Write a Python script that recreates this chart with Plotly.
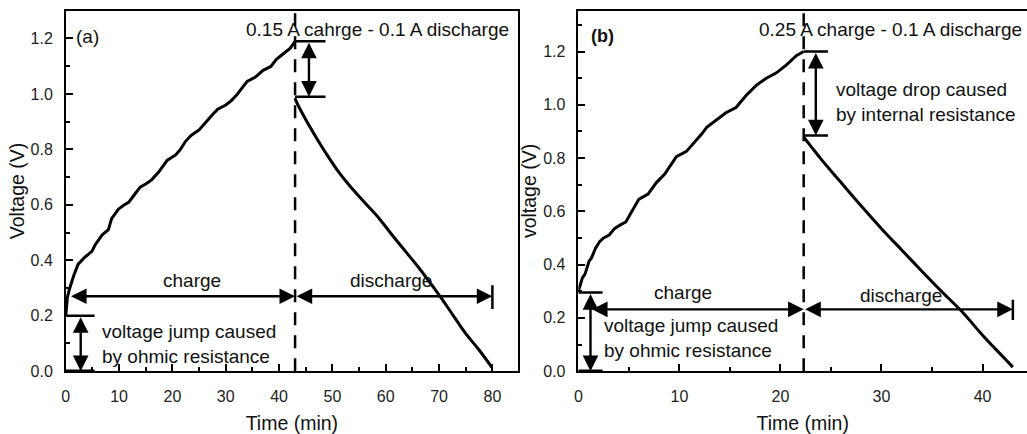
import plotly.graph_objects as go

# ---------------- data ----------------
a_charge_t = [0.0, 0.1, 0.3, 0.6, 1.0, 1.5, 2.3, 3.5, 4.9, 5.5, 6.8, 8.0, 8.6, 9.9, 11.0, 11.8,
              13.0, 14.0, 15.0, 16.1, 17.5, 19.0, 20.6, 21.5, 22.5, 23.5, 25.0, 26.3, 27.5, 28.5,
              30.0, 31.0, 32.0, 33.0, 34.0, 35.5, 37.0, 38.5, 39.5, 40.8, 42.1, 43.0]
a_charge_v = [0.20, 0.235, 0.265, 0.29, 0.315, 0.345, 0.385, 0.41, 0.432, 0.455, 0.491, 0.51, 0.55,
              0.585, 0.60, 0.609, 0.64, 0.665, 0.675, 0.69, 0.72, 0.76, 0.78, 0.80, 0.83, 0.85, 0.87,
              0.90, 0.925, 0.945, 0.96, 0.975, 0.995, 1.02, 1.045, 1.06, 1.085, 1.10, 1.125, 1.145,
              1.165, 1.19]
a_dis_t = [43.0, 43.2, 45.1, 46.9, 48.8, 51.3, 53.8, 56.3, 58.8, 61.2, 63.7, 66.2, 68.7, 70.3,
           72.4, 74.9, 77.4, 79.9]
a_dis_v = [0.985, 0.974, 0.904, 0.845, 0.786, 0.715, 0.656, 0.603, 0.55, 0.491, 0.432, 0.373,
           0.309, 0.267, 0.208, 0.138, 0.079, 0.014]

b_charge_t = [0.0, 0.07, 0.4, 0.66, 1.06, 1.3, 1.7, 2.1, 2.5, 3.05, 3.6, 4.2, 4.7, 5.3, 6.0, 6.9,
              7.7, 8.55, 9.2, 9.7, 10.7, 11.7, 12.2, 12.7, 13.7, 14.6, 15.6, 16.6, 17.6, 18.6,
              19.6, 20.6, 21.6, 22.3]
b_charge_v = [0.30, 0.31, 0.35, 0.364, 0.413, 0.425, 0.462, 0.486, 0.50, 0.511, 0.536, 0.55, 0.56,
              0.60, 0.646, 0.665, 0.707, 0.74, 0.775, 0.805, 0.825, 0.866, 0.89, 0.915, 0.945,
              0.97, 0.99, 1.035, 1.073, 1.10, 1.12, 1.15, 1.185, 1.20]
b_dis_t = [22.3, 23.0, 24.0, 25.0, 26.0, 28.0, 30.0, 32.0, 34.0, 36.0, 38.0, 40.0, 42.0, 43.0]
b_dis_v = [0.879, 0.845, 0.797, 0.752, 0.708, 0.62, 0.535, 0.455, 0.375, 0.297, 0.222, 0.135,
           0.055, 0.015]

x_ticks_a = [0, 10, 20, 30, 40, 50, 60, 70, 80]
x_ticks_b = [0, 10, 20, 30, 40]
y_ticks = [0.0, 0.2, 0.4, 0.6, 0.8, 1.0, 1.2]

FONT = "Liberation Sans, Arial, sans-serif"
BLACK = "#000000"

fig = go.Figure()
line_style = dict(color=BLACK, width=3)
fig.add_trace(go.Scatter(x=a_charge_t, y=a_charge_v, mode="lines", line=line_style,
                         xaxis="x", yaxis="y", showlegend=False))
fig.add_trace(go.Scatter(x=a_dis_t, y=a_dis_v, mode="lines", line=dict(line_style, shape="spline"),
                         xaxis="x", yaxis="y", showlegend=False))
fig.add_trace(go.Scatter(x=b_charge_t, y=b_charge_v, mode="lines", line=line_style,
                         xaxis="x2", yaxis="y2", showlegend=False))
fig.add_trace(go.Scatter(x=b_dis_t, y=b_dis_v, mode="lines", line=dict(line_style, shape="spline"),
                         xaxis="x2", yaxis="y2", showlegend=False))

W, H = 1027, 434
ytop, ybot = 11, 379
ydom = [1 - ybot / H, 1 - ytop / H]

axis_common = dict(showline=True, linecolor=BLACK, linewidth=1.5, ticks="inside", ticklen=7,
                   tickwidth=1.5, tickcolor=BLACK, showgrid=False, zeroline=False,
                   tickfont=dict(family=FONT, size=16, color="#222"),
                   title_font=dict(family=FONT, size=19.5, color="#111"))
minor_x = dict(dtick=5, tick0=0, ticks="inside", ticklen=4, tickwidth=1.5, tickcolor=BLACK)
minor_y = dict(dtick=0.1, tick0=0, ticks="inside", ticklen=4, tickwidth=1.5, tickcolor=BLACK)

fig.update_layout(
    width=W, height=H, margin=dict(l=0, r=0, t=0, b=0),
    paper_bgcolor="white", plot_bgcolor="white",
    xaxis=dict(axis_common, domain=[62 / W, 516 / W], range=[0, 84.8], tickvals=x_ticks_a,
               mirror=True, anchor="y", ticklabelstandoff=10,
               title=dict(text="Time (min)", standoff=15), minor=minor_x),
    yaxis=dict(axis_common, domain=ydom, range=[0, 1.3], tickvals=y_ticks, tickformat=".1f",
               mirror=True, anchor="x", ticklabelstandoff=8,
               title=dict(text="Voltage (V)", standoff=1), minor=minor_y),
    xaxis2=dict(axis_common, domain=[576.6 / W, 1.0], range=[0, 44.4], tickvals=x_ticks_b,
                mirror=True, anchor="y2", ticklabelstandoff=10,
                title=dict(text="Time (min)", standoff=15), minor=minor_x),
    yaxis2=dict(axis_common, domain=ydom, range=[0, 1.353], tickvals=y_ticks, tickformat=".1f",
                mirror=False, anchor="x2", ticklabelstandoff=8,
                title=dict(text="voltage (V)", standoff=1), minor=minor_y),
)

shapes = []
annos = []


def seg(xr, yr, x0, y0, x1, y1, width=2.5, dash=None):
    shapes.append(dict(type="line", xref=xr, yref=yr, x0=x0, y0=y0, x1=x1, y1=y1,
                       line=dict(color=BLACK, width=width, dash=dash)))


def darrow(xr, yr, x0, y0, x1, y1):
    annos.append(dict(xref=xr, yref=yr, axref=xr, ayref=yr, x=x1, y=y1, ax=x0, ay=y0,
                      text="", showarrow=True, arrowhead=2, startarrowhead=2,
                      arrowside="end+start", arrowwidth=2.4, arrowsize=1.3, startarrowsize=1.3,
                      arrowcolor=BLACK, standoff=0, startstandoff=0))


def text(xr, yr, x, y, s, size=19, xanchor="center", align="center"):
    annos.append(dict(xref=xr, yref=yr, x=x, y=y, text=s, showarrow=False, xanchor=xanchor,
                      yanchor="middle", align=align,
                      font=dict(family=FONT, size=size, color="#111")))


# ---- panel (a) ----
seg("x", "y", 43, 0, 43, 1.3, dash="13px,10px")
seg("x", "y", 43, 1.19, 48.7, 1.19)
seg("x", "y", 43, 0.99, 48.7, 0.99)
darrow("x", "y", 45.6, 1.19, 45.6, 0.99)
darrow("x", "y", 0.7, 0.27, 43, 0.27)
darrow("x", "y", 43, 0.27, 80, 0.27)
seg("x", "y", 80, 0.224, 80, 0.31)
seg("x", "y", 0, 0.2, 5.4, 0.2)
seg("x", "y", 0, 0.0, 5.4, 0.0, width=3.5)
darrow("x", "y", 2.8, 0.2, 2.8, 0.0)
text("x", "y", 4.0, 1.208, "(a)", size=19)
text("x", "y", 58.4, 1.233, "0.15 A cahrge - 0.1 A discharge", size=19)
text("x", "y", 23.7, 0.326, "charge")
text("x", "y", 60.96, 0.326, "discharge")
text("x", "y", 6.35, 0.097, "voltage jump caused<br>by ohmic resistance", xanchor="left", align="left")

# ---- panel (b) ----
seg("x2", "y2", 22.3, 0, 22.3, 1.353, dash="13px,10px")
seg("x2", "y2", 22.3, 1.2, 24.7, 1.2)
seg("x2", "y2", 22.3, 0.885, 24.7, 0.885)
darrow("x2", "y2", 23.5, 1.2, 23.5, 0.885)
darrow("x2", "y2", 1.2, 0.232, 22.3, 0.232)
darrow("x2", "y2", 22.3, 0.232, 43, 0.232)
seg("x2", "y2", 43, 0.192, 43, 0.268)
seg("x2", "y2", 0, 0.295, 2.4, 0.295)
seg("x2", "y2", 0, 0.0, 2.4, 0.0, width=3.5)
darrow("x2", "y2", 1.2, 0.295, 1.2, 0.0)
text("x2", "y2", 2.36, 1.258, "<b>(b)</b>", size=18)
text("x2", "y2", 30.85, 1.283, "0.25 A charge - 0.1 A discharge", size=19)
text("x2", "y2", 10.35, 0.294, "charge")
text("x2", "y2", 31.9, 0.284, "discharge")
text("x2", "y2", 2.38, 0.125, "voltage jump caused<br>by ohmic resistance", xanchor="left", align="left")
text("x2", "y2", 25.27, 1.011, "voltage drop caused<br>by internal resistance", xanchor="left", align="left")

fig.update_layout(shapes=shapes, annotations=annos)
fig.write_html("out.html")
